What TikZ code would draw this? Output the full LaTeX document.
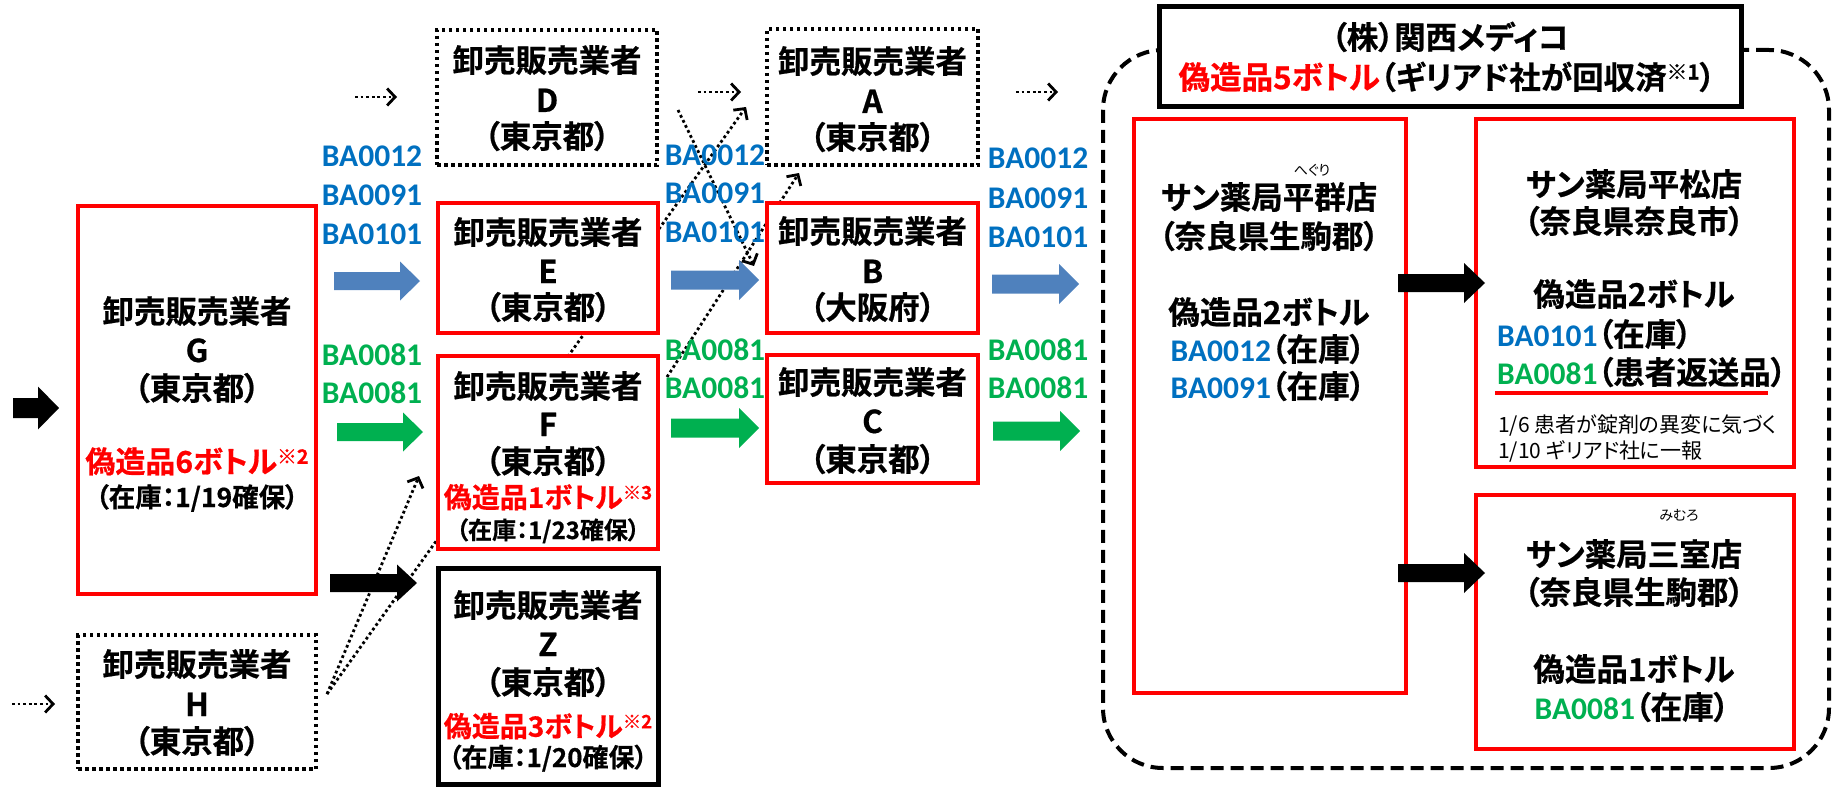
\documentclass[tikz,border=0pt]{standalone}
\usepackage{fontspec}
\usetikzlibrary{arrows.meta}
\newfontfamily\jpb{Noto Sans CJK JP Bold}[RawFeature=+palt, FakeBold=0.6]
\newfontfamily\jpr{Noto Sans CJK JP}[RawFeature=+palt]
\newfontfamily\labf{Carlito}
\newcommand\fsz[1]{\fontsize{#1}{#1}\selectfont}
\newcommand\supm[1]{\raisebox{0.3em}{\scalebox{0.66}{#1}}}
\definecolor{cred}{HTML}{FF0000}
\definecolor{cblue}{HTML}{0070C0}
\definecolor{cgreen}{HTML}{00B050}
\definecolor{ablue}{HTML}{4F81BD}
\definecolor{agreen}{HTML}{00B050}
\newcommand\bl[1]{{\labf\bfseries\color{cblue}#1}}
\newcommand\gr[1]{{\labf\bfseries\color{cgreen}#1}}
\tikzset{
  redbox/.style={draw=cred, line width=4.5pt, fill=white, inner sep=0pt},
  blkbox/.style={draw=black, line width=5pt, fill=white, inner sep=0pt},
  dotbox/.style={draw=black, line width=3.5pt, dash pattern=on 3.5pt off 3.5pt, fill=white, inner sep=0pt},
  container/.style={draw=black, line width=4pt, dash pattern=on 13pt off 7pt, rounded corners=60pt, inner sep=0pt},
  wh/.style 2 args={minimum width=#1pt, minimum height=#2pt},
  jt/.style={inner sep=0pt, text height=26pt, text depth=4pt, font=\jpb\fsz{31.5}},
  jred/.style={inner sep=0pt, text height=23pt, text depth=3.5pt, text=cred, font=\jpb\fsz{28}},
  jnote/.style={inner sep=0pt, anchor=west, text height=17pt, text depth=3pt, font=\jpr\fsz{21}},
  jruby/.style={inner sep=0pt, font=\jpr\fsz{14}},
  lbl/.style={inner sep=0pt, font=\labf\bfseries\fsz{31.5}},
  dotline/.style={line width=2.8pt, dash pattern=on 2.8pt off 2.8pt, -{Straight Barb[length=8pt,width=17pt]}},
  pics/barrow/.style n args={5}{code={
    \fill[#5] (-#1,-#3) -- (#1-#4,-#3) -- (#1-#4,-#2) -- (#1,0) -- (#1-#4,#2) -- (#1-#4,#3) -- (-#1,#3) -- cycle;}}
}
\begin{document}
\begin{tikzpicture}[x=1pt,y=-1pt]
\useasboundingbox (0,0) rectangle (1836,789);
% container of Kansai Medico
\node[container, wh={726}{718}] (kansai) at (1466,409) {};
% dotted connectors that pass behind boxes
\coordinate (hs) at (327,694);
\coordinate (hFt) at (419,476);
\coordinate (hAt) at (746,107);
\coordinate (fs) at (667,377);
\coordinate (fAt) at (799,173);
\coordinate (ds) at (678,110);
\coordinate (dBt) at (754,266);
\draw[dotline] (hs) -- (hFt);
\draw[dotline] (hs) -- (hAt);
\draw[dotline] (fs) -- (fAt);
% boxes
\node[dotbox, wh={238}{134}] (H) at (197,702) {};
\node[redbox, wh={238}{388}] (G) at (197,400) {};
\node[dotbox, wh={220}{135}] (D) at (547,97.5) {};
\node[redbox, wh={220}{130}] (E) at (548,268) {};
\node[redbox, wh={220}{193}] (F) at (548,452.5) {};
\node[blkbox, wh={220}{216.5}] (Z) at (548,676.25) {};
\node[dotbox, wh={211}{136}] (A) at (872.5,97) {};
\node[redbox, wh={211}{130}] (B) at (872.5,268) {};
\node[redbox, wh={211}{128}] (C) at (872.5,419) {};
\node[blkbox, wh={582}{100}] (T) at (1450,57) {};
\node[redbox, wh={272}{574}] (P1) at (1270,406) {};
\node[redbox, wh={318}{348}] (P2) at (1635,293) {};
\node[redbox, wh={318}{254}] (P3) at (1635,622) {};
% block arrows
\pic (a0) at (36,408) {barrow={23}{21.5}{10}{21}{black}};
\pic (aGE) at (377,281) {barrow={43}{19.5}{9}{20}{ablue}};
\pic (aGF) at (380,432) {barrow={43}{19.5}{9}{20}{agreen}};
\pic (aGZ) at (373.5,583) {barrow={43.5}{18.5}{9}{20}{black}};
\pic (aEB) at (715,280) {barrow={44}{20}{9.5}{20}{ablue}};
\pic (aFC) at (715,428) {barrow={44}{20}{9.5}{20}{agreen}};
\pic (aBK) at (1035.5,284) {barrow={43.5}{20}{9.5}{20}{ablue}};
\pic (aCK) at (1036.5,431) {barrow={43.5}{20}{9.5}{20}{agreen}};
\pic (aP12) at (1441.5,283) {barrow={43.5}{20}{9}{21}{black}};
\pic (aP13) at (1441.5,573) {barrow={43.5}{20}{9}{21}{black}};
\draw[dotline] (ds) -- (dBt);
% short dotted arrows
\coordinate (s1a) at (355,97);  \coordinate (s1b) at (397,97);
\coordinate (s2a) at (12,704);  \coordinate (s2b) at (55,704);
\coordinate (s3a) at (698,92);  \coordinate (s3b) at (741,92);
\coordinate (s4a) at (1016,92); \coordinate (s4b) at (1058,92);
\draw[dotline] (s1a) -- (s1b);
\draw[dotline] (s2a) -- (s2b);
\draw[dotline] (s3a) -- (s3b);
\draw[dotline] (s4a) -- (s4b);
% G
\node[jt] (Gt1) at (197,312) {卸売販売業者};
\node[jt] (Gt2) at (197,351) {G};
\node[jt] (Gt3) at (197,389) {（東京都）};
\node[jred, font=\jpb\fsz{30}] (Gt4) at (197,463) {偽造品6ボトル\supm{※2}};
\node[jt, font=\jpb\fsz{26.5}] (Gt5) at (197,496) {（在庫：1/19確保）};
% H
\node[jt] (Ht1) at (197,665) {卸売販売業者};
\node[jt] (Ht2) at (197,705) {H};
\node[jt] (Ht3) at (197,742) {（東京都）};
% D
\node[jt] (Dt1) at (547,61) {卸売販売業者};
\node[jt] (Dt2) at (547,101) {D};
\node[jt] (Dt3) at (547,137) {（東京都）};
% E
\node[jt] (Et1) at (548,233) {卸売販売業者};
\node[jt] (Et2) at (548,272) {E};
\node[jt] (Et3) at (548,308) {（東京都）};
% F
\node[jt] (Ft1) at (548,387) {卸売販売業者};
\node[jt] (Ft2) at (548,425) {F};
\node[jt] (Ft3) at (548,462) {（東京都）};
\node[jred] (Ft4) at (548,498) {偽造品1ボトル\supm{※3}};
\node[jt, font=\jpb\fsz{24}] (Ft5) at (548,528) {（在庫：1/23確保）};
% Z
\node[jt] (Zt1) at (548,606) {卸売販売業者};
\node[jt] (Zt2) at (548,645) {Z};
\node[jt] (Zt3) at (548,683) {（東京都）};
\node[jred] (Zt4) at (548,727) {偽造品3ボトル\supm{※2}};
\node[jt, font=\jpb\fsz{26}] (Zt5) at (548,756) {（在庫：1/20確保）};
% A B C
\node[jt] (At1) at (872.5,62) {卸売販売業者};
\node[jt] (At2) at (872.5,102) {A};
\node[jt] (At3) at (872.5,138) {（東京都）};
\node[jt] (Bt1) at (872.5,232) {卸売販売業者};
\node[jt] (Bt2) at (872.5,272) {B};
\node[jt] (Bt3) at (872.5,308) {（大阪府）};
\node[jt] (Ct1) at (872.5,383) {卸売販売業者};
\node[jt] (Ct2) at (872.5,422) {C};
\node[jt] (Ct3) at (872.5,460) {（東京都）};
% lot labels
\foreach \t/\y [count=\i] in {BA0012/156,BA0091/195,BA0101/234}
  \node[lbl, text=cblue] (lbL\i) at (372,\y) {\t};
\foreach \t/\y [count=\i] in {BA0012/155,BA0091/193,BA0101/232}
  \node[lbl, text=cblue] (lbM\i) at (715,\y) {\t};
\foreach \t/\y [count=\i] in {BA0012/158,BA0091/198,BA0101/237}
  \node[lbl, text=cblue] (lbR\i) at (1038,\y) {\t};
\foreach \y [count=\i] in {355,393}
  \node[lbl, text=cgreen] (lgL\i) at (372,\y) {BA0081};
\foreach \y [count=\i] in {350,388}
  \node[lbl, text=cgreen] (lgM\i) at (715,\y) {BA0081};
\foreach \y [count=\i] in {350,388}
  \node[lbl, text=cgreen] (lgR\i) at (1038,\y) {BA0081};
% title
\node[jt] (T1) at (1450,38) {（株）関西メディコ};
\node[jt] (T2) at (1447,78) {\textcolor{cred}{偽造品5ボトル}（ギリアド社が回収済\supm{※1}）};
% P1
\node[jruby] (P1r) at (1312,170) {へぐり};
\node[jt] (P1a) at (1269,198) {サン薬局平群店};
\node[jt] (P1b) at (1269,237) {（奈良県生駒郡）};
\node[jt] (P1c) at (1269,313) {偽造品2ボトル};
\node[jt] (P1d) at (1268,350) {\bl{BA0012}（在庫）};
\node[jt] (P1e) at (1268,387) {\bl{BA0091}（在庫）};
% P2
\node[jt] (P2a) at (1634,185) {サン薬局平松店};
\node[jt] (P2b) at (1634,222) {（奈良県奈良市）};
\node[jt] (P2c) at (1634,295) {偽造品2ボトル};
\node[jt, anchor=west] (P2d) at (1497,335) {\bl{BA0101}（在庫）};
\node[jt, anchor=west] (P2e) at (1497,373) {\gr{BA0081}（患者返送品）};
\coordinate (u1) at (1495,393); \coordinate (u2) at (1768,393);
\draw[cred, line width=4pt] (u1) -- (u2);
\node[jnote] (P2f) at (1498,425) {1/6 患者が錠剤の異変に気づく};
\node[jnote] (P2g) at (1498,451) {1/10 ギリアド社に一報};
% P3
\node[jruby] (P3r) at (1679,515) {みむろ};
\node[jt] (P3a) at (1634,555) {サン薬局三室店};
\node[jt] (P3b) at (1634,593) {（奈良県生駒郡）};
\node[jt] (P3c) at (1634,670) {偽造品1ボトル};
\node[jt] (P3d) at (1632,708) {\gr{BA0081}（在庫）};
\end{tikzpicture}
\end{document}
